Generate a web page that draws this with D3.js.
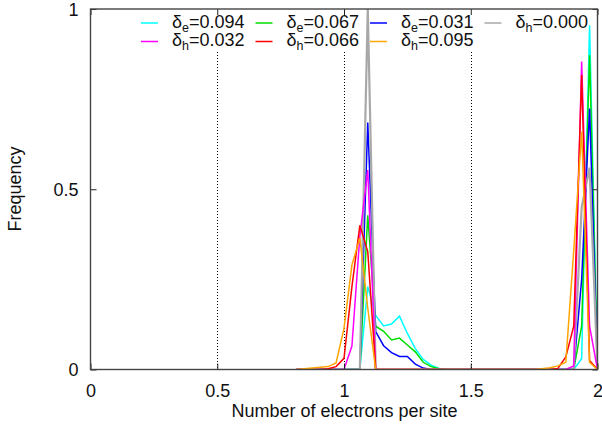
<!DOCTYPE html>
<html>
<head>
<meta charset="utf-8">
<script src="https://cdn.jsdelivr.net/npm/d3@7"></script>
<style>
  html, body { margin: 0; padding: 0; background: #fff; }
  svg { display: block; font-family: "Liberation Sans", Arial, sans-serif; }
</style>
</head>
<body>
<svg id="chart" width="602" height="429"></svg>
<script>
// Bin positions (number of electrons per site)
const nValues = [0.8125, 0.84375, 0.875, 0.90625, 0.9375, 0.96875, 1.0, 1.03125, 1.0625, 1.09375,
  1.125, 1.15625, 1.1875, 1.21875, 1.25, 1.28125, 1.3125, 1.34375, 1.375, 1.40625,
  1.4375, 1.46875, 1.5, 1.53125, 1.5625, 1.59375, 1.625, 1.65625, 1.6875, 1.71875,
  1.75, 1.78125, 1.8125, 1.84375, 1.875, 1.90625, 1.9375, 1.96875, 2.0];

const labels = ["e=0.094", "e=0.067", "e=0.031", "h=0.000", "h=0.032", "h=0.066", "h=0.095"];

const cyanE094 = [0, 0, 0, 0, 0, 0, 0, 0, 0, 0.23,
  0.15, 0.121, 0.126, 0.148, 0.10, 0.058, 0.028, 0.012, 0.003, 0,
  0, 0, 0, 0, 0, 0, 0, 0, 0, 0,
  0, 0, 0, 0, 0, 0, 0.03, 0.955, 0];
const greenE067 = [0, 0, 0, 0, 0, 0, 0, 0, 0, 0.428,
  0.12, 0.106, 0.082, 0.087, 0.068, 0.049, 0.02, 0.008, 0.002, 0,
  0, 0, 0, 0, 0, 0, 0, 0, 0, 0,
  0, 0, 0, 0, 0, 0, 0.12, 0.872, 0];
const blueE031 = [0, 0, 0, 0, 0, 0, 0, 0, 0, 0.685,
  0.105, 0.066, 0.047, 0.036, 0.036, 0.015, 0.004, 0, 0, 0,
  0, 0, 0, 0, 0, 0, 0, 0, 0, 0,
  0, 0, 0, 0, 0, 0, 0.25, 0.724, 0];
const greyH000 = [0, 0, 0, 0, 0, 0, 0, 0, 0, 1.0,
  0, 0, 0, 0, 0, 0, 0, 0, 0, 0,
  0, 0, 0, 0, 0, 0, 0, 0, 0, 0,
  0, 0, 0, 0, 0, 0, 0.45, 0.56, 0];
const magentaH032 = [0, 0, 0, 0, 0, 0, 0, 0.065, 0.37, 0.553,
  0, 0, 0, 0, 0, 0, 0, 0, 0, 0,
  0, 0, 0, 0, 0, 0, 0, 0, 0, 0,
  0, 0, 0, 0, 0, 0.01, 0.854, 0.12, 0];
const redH066 = [0, 0, 0, 0, 0.002, 0.008, 0.031, 0.23, 0.40, 0.327,
  0, 0, 0, 0, 0, 0, 0, 0, 0, 0,
  0, 0, 0, 0, 0, 0, 0, 0, 0, 0,
  0, 0, 0, 0.003, 0.035, 0.12, 0.817, 0.025, 0];
const orangeH095 = [0, 0.002, 0.004, 0.006, 0.008, 0.018, 0.114, 0.29, 0.365, 0.17,
  0, 0, 0, 0, 0, 0, 0, 0, 0, 0,
  0, 0, 0, 0, 0, 0, 0, 0, 0, 0,
  0, 0.002, 0.005, 0.01, 0.02, 0.33, 0.66, 0.02, 0];

const seriesValues = [cyanE094, greenE067, blueE031, greyH000, magentaH032, redH066, orangeH095];
const colors = ["#00ffff", "#00dd00", "#0000ff", "#a8a8a8", "#ff00ff", "#ff0000", "#ffa500"];
const widths = [1.5, 1.5, 1.5, 2.2, 1.5, 1.5, 1.5];

const xTicks = [0, 0.5, 1, 1.5, 2];
const xTickLabels = ["0", "0.5", "1", "1.5", "2"];
const yTicks = [0, 0.5, 1];
const yTickLabels = ["0", "0.5", "1"];
const gridX = [0.5, 1, 1.5];

const svg = d3.select("#chart");
const L = 90.5, R = 597.5, T = 9, B = 369.5;
const x = d3.scaleLinear().domain([0, 2]).range([L, R]);
const y = d3.scaleLinear().domain([0, 1]).range([B, T]);

// grid (dotted)
svg.append("g").selectAll("line").data(gridX).join("line")
  .attr("x1", d => Math.round(x(d)) + 0.5).attr("x2", d => Math.round(x(d)) + 0.5)
  .attr("y1", 52).attr("y2", B)
  .attr("stroke", "#000").attr("stroke-width", 1).attr("stroke-dasharray", "1,2");

svg.append("clipPath").attr("id", "clip").append("rect")
  .attr("x", L).attr("y", T - 1).attr("width", R - L).attr("height", B - T + 1);

const line = d3.line().x((d, i) => x(nValues[i])).y(d => y(d));
const g = svg.append("g").attr("clip-path", "url(#clip)");
seriesValues.forEach((vals, i) => {
  g.append("path").datum(vals)
    .attr("d", line)
    .attr("fill", "none")
    .attr("stroke", colors[i])
    .attr("stroke-width", widths[i])
    .attr("stroke-linejoin", "miter");
});

// axes
const xAxisB = d3.axisBottom(x).tickValues(xTicks).tickFormat((d, i) => xTickLabels[i]).tickSizeInner(-6).tickSizeOuter(0).tickPadding(14);
const gxb = svg.append("g").attr("transform", `translate(0,${B})`).call(xAxisB);
const xAxisT = d3.axisTop(x).tickValues(xTicks).tickFormat("").tickSizeInner(-6).tickSizeOuter(0);
const gxt = svg.append("g").attr("transform", `translate(0,${T})`).call(xAxisT);
const yAxisL = d3.axisLeft(y).tickValues(yTicks).tickFormat((d, i) => yTickLabels[i]).tickSizeInner(-6).tickSizeOuter(0).tickPadding(18);
const gyl = svg.append("g").attr("transform", `translate(${L},0)`).call(yAxisL);
const yAxisR = d3.axisRight(y).tickValues(yTicks).tickFormat("").tickSizeInner(-5).tickSizeOuter(0);
const gyr = svg.append("g").attr("transform", `translate(${R},0)`).call(yAxisR);

[gxb, gxt, gyl, gyr].forEach(a => {
  a.select(".domain").remove();
  a.selectAll(".tick line").attr("stroke", "#222").attr("stroke-width", 1);
  a.selectAll("text").attr("font-size", 18).attr("fill", "#111")
    .attr("font-family", '"Liberation Sans", Arial, sans-serif');
});
gxb.selectAll("text").attr("dy", null).attr("y", 27);
gyl.selectAll("text").attr("dy", "0.36em").attr("x", -12);

// border
svg.append("rect").attr("x", L).attr("y", T).attr("width", R - L).attr("height", B - T)
  .attr("fill", "none").attr("stroke", "#444").attr("stroke-width", 1.4);

// axis titles
svg.append("text").attr("x", (L + R) / 2 + 0.5).attr("y", 417)
  .attr("text-anchor", "middle").attr("font-size", 18).attr("fill", "#111")
  .text("Number of electrons per site");
svg.append("text").attr("transform", "translate(21,189) rotate(-90)")
  .attr("text-anchor", "middle").attr("font-size", 18).attr("fill", "#111")
  .text("Frequency");

// legend
const colStart = [141, 255.5, 370, 484.5];
const rowBase = [27.5, 46];
labels.forEach((lab, i) => {
  const col = i < 4 ? i : i - 4;
  const row = i < 4 ? 0 : 1;
  const sx = colStart[col];
  const by = rowBase[row];
  svg.append("line").attr("x1", sx).attr("x2", sx + 17)
    .attr("y1", by - 4.5).attr("y2", by - 4.5)
    .attr("stroke", colors[i]).attr("stroke-width", 1.5);
  const t = svg.append("text").attr("x", sx + 31).attr("y", by)
    .attr("font-size", 18).attr("fill", "#111");
  t.append("tspan").text("δ");
  t.append("tspan").attr("dy", 4).attr("font-size", 12.5).text(lab.charAt(0));
  t.append("tspan").attr("dy", -4).text(lab.slice(1));
});
</script>
</body>
</html>
